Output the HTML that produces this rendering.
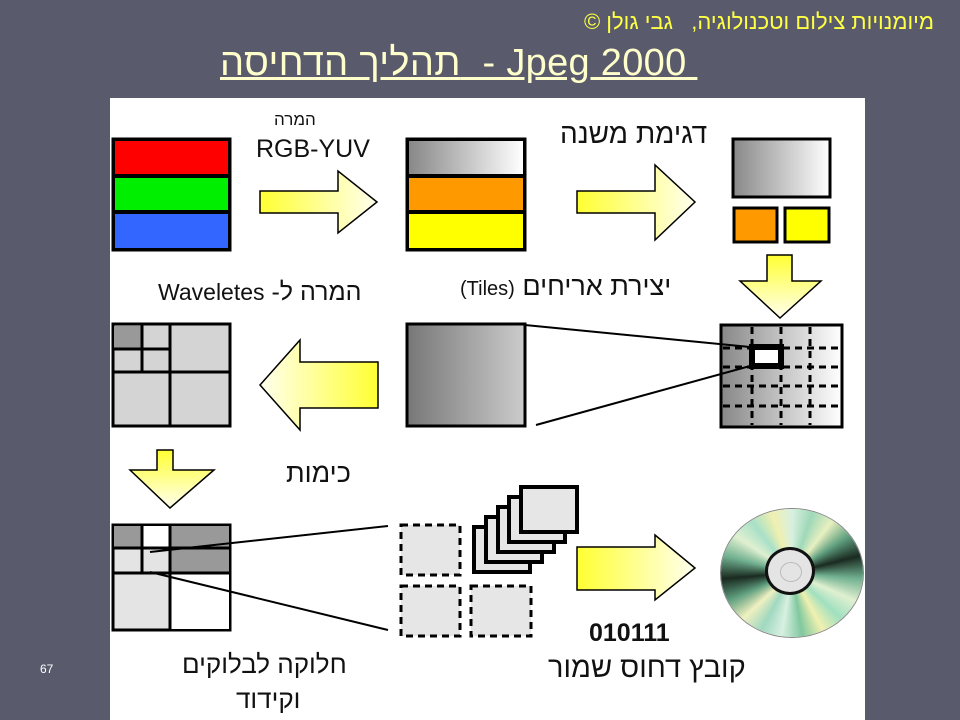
<!DOCTYPE html>
<html><head><meta charset="utf-8"><style>
body{margin:0;width:960px;height:720px;overflow:hidden;background:#595b6c;font-family:"Liberation Sans","DejaVu Sans",sans-serif;position:relative}
.t{position:absolute;white-space:nowrap}
#cd{position:absolute;left:721px;top:509px;width:142px;height:128px;border-radius:50%;
background:conic-gradient(from 0deg,#d8f0e0,#9fd8b8,#e8f0c0,#60a080,#1a2a20,#70b090,#e0f0d0,#a0e0c0,#f0f0b0,#80c8a0,#d8f0e0,#a0d8c0,#f0f0c0,#60a080,#1a2a20,#70b090,#e0f0d0,#a8e0c8,#f0f0b0,#d8f0e0);
box-shadow:0 0 0 1px #888}
#hub{position:absolute;left:44px;top:38px;width:50px;height:48px;border-radius:50%;background:#e4e4e4;border:3px solid #111;box-sizing:border-box}
#hub2{position:absolute;left:12px;top:12px;width:20px;height:18px;border-radius:50%;border:1px solid #bbb}
</style></head><body>
<div class="t" style="right:26px;top:9px;color:#ffff44;font-size:22px;direction:rtl;font-family:'Liberation Sans','Noto Sans CJK SC',sans-serif">מיומנויות צילום וטכנולוגיה,&nbsp;&nbsp; גבי גולן ©</div>
<div class="t" style="left:220px;top:42px;color:#ffffcc;font-size:38px;letter-spacing:0.3px;text-decoration:underline;direction:ltr;font-family:'Liberation Sans','Noto Sans CJK SC',sans-serif">תהליך הדחיסה&nbsp; - Jpeg 2000&nbsp;</div>
<div class="t" style="left:40px;top:662px;color:#fff;font-size:12px">67</div>
<svg style="position:absolute;left:0;top:0" width="960" height="720">
<defs>
<linearGradient id="ay" x1="0" x2="1"><stop offset="0" stop-color="#ffff33"/><stop offset="1" stop-color="#ffffee"/></linearGradient>
<linearGradient id="ayl" x1="1" x2="0"><stop offset="0" stop-color="#ffff33"/><stop offset="1" stop-color="#ffffee"/></linearGradient>
<linearGradient id="ayd" x1="0" y1="0" x2="0" y2="1"><stop offset="0" stop-color="#ffff33"/><stop offset="1" stop-color="#ffffee"/></linearGradient>
<linearGradient id="g1" x1="0" x2="1"><stop offset="0" stop-color="#888"/><stop offset="1" stop-color="#fff"/></linearGradient>
<linearGradient id="g2" x1="0" x2="1"><stop offset="0" stop-color="#777"/><stop offset="1" stop-color="#ccc"/></linearGradient>
</defs>
<rect x="110" y="98" width="755" height="622" fill="#fff"/>
<g stroke="#000" stroke-width="3">
<rect x="113" y="139" width="117" height="111" fill="#000"/>
<rect x="115" y="141" width="113" height="33" fill="#ff0000" stroke="none"/>
<rect x="115" y="178" width="113" height="32" fill="#00ee00" stroke="none"/>
<rect x="115" y="214" width="113" height="34" fill="#3366ff" stroke="none"/>
<rect x="407" y="139" width="118" height="111" fill="#000"/>
<rect x="409" y="141" width="114" height="33" fill="url(#g1)" stroke="none"/>
<rect x="409" y="178" width="114" height="32" fill="#ff9900" stroke="none"/>
<rect x="409" y="214" width="114" height="34" fill="#ffff00" stroke="none"/>
<rect x="733" y="139" width="97" height="58" fill="url(#g1)"/>
<rect x="734" y="208" width="43" height="34" fill="#ff9900"/>
<rect x="785" y="208" width="44" height="34" fill="#ffff00"/>
<path d="M260 191H338V171L377 202L338 233V213H260Z" fill="url(#ay)" stroke-width="1.5"/>
<path d="M577 191H655V165L695 202L655 240V213H577Z" fill="url(#ay)" stroke-width="1.5"/>
<path d="M767 255H792V281H821L780 318L740 281H767Z" fill="url(#ayd)" stroke-width="1.5"/>
<path d="M378 362V408H300V430L260 385L300 340V362Z" fill="url(#ayl)" stroke-width="1.5"/>
<path d="M157 450H173V470H214L170 508L130 470H157Z" fill="url(#ayd)" stroke-width="1.5"/>
<path d="M577 547H655V535L695 568L655 600V590H577Z" fill="url(#ay)" stroke-width="1.5"/>
<rect x="407" y="324" width="118" height="102" fill="url(#g2)"/>
<rect x="721" y="325" width="121" height="102" fill="url(#g1)"/>
<g stroke-dasharray="7,5" stroke-width="3">
<line x1="752" y1="327" x2="752" y2="425"/><line x1="781" y1="327" x2="781" y2="425"/><line x1="810" y1="327" x2="810" y2="425"/>
<line x1="723" y1="348" x2="840" y2="348"/><line x1="723" y1="367" x2="840" y2="367"/><line x1="723" y1="386" x2="840" y2="386"/><line x1="723" y1="406" x2="840" y2="406"/>
</g>
<rect x="752" y="347" width="29" height="19" fill="#fff" stroke-width="6"/>
<line x1="525" y1="325" x2="750" y2="347" stroke-width="2"/>
<line x1="536" y1="425" x2="750" y2="366" stroke-width="2"/>
<rect x="113" y="324" width="117" height="102" fill="#d4d4d4"/>
<rect x="114" y="326" width="28" height="22" fill="#999" stroke="none"/>
<line x1="142" y1="324" x2="142" y2="372"/><line x1="113" y1="349" x2="170" y2="349"/>
<line x1="170" y1="324" x2="170" y2="426"/><line x1="113" y1="372" x2="230" y2="372"/>
<rect x="113" y="525" width="117" height="105" fill="#e4e4e4"/>
<rect x="114" y="526" width="28" height="21" fill="#999" stroke="none"/>
<rect x="142" y="526" width="28" height="21" fill="#fff" stroke="none"/>
<rect x="170" y="526" width="59" height="47" fill="#999" stroke="none"/>
<rect x="170" y="573" width="59" height="56" fill="#fff" stroke="none"/>
<line x1="142" y1="525" x2="142" y2="573"/><line x1="113" y1="548" x2="230" y2="548"/>
<line x1="170" y1="525" x2="170" y2="630"/><line x1="113" y1="573" x2="230" y2="573"/>
<line x1="150" y1="552" x2="388" y2="526" stroke-width="2"/>
<line x1="150" y1="572" x2="388" y2="630" stroke-width="2"/>
<g stroke-dasharray="7,5" stroke-width="3" fill="#e6e6e6">
<rect x="401" y="525" width="59" height="50"/><rect x="401" y="586" width="59" height="50"/><rect x="471" y="586" width="60" height="50"/>
</g>
<g fill="#e6e6e6" stroke-width="4">
<rect x="474" y="527" width="56" height="45"/><rect x="486" y="517" width="56" height="45"/><rect x="498" y="507" width="56" height="45"/><rect x="509" y="497" width="56" height="45"/><rect x="521" y="487" width="56" height="45"/>
</g>
</g>
</svg>
<div id="cd"><div id="hub"><div id="hub2"></div></div></div>
<div class="t" style="left:274px;top:110px;font-size:17px;color:#111;direction:rtl;font-family:'Liberation Sans','Noto Sans CJK SC',sans-serif">המרה</div>
<div class="t" style="left:256px;top:135px;font-size:25px;color:#111">RGB-YUV</div>
<div class="t" style="left:560px;top:118px;font-size:28px;color:#111;direction:rtl;font-family:'Liberation Sans','Noto Sans CJK SC',sans-serif">דגימת משנה</div>
<div class="t" style="left:460px;top:271px;font-size:27px;color:#111;direction:rtl;font-family:'Liberation Sans','Noto Sans CJK SC',sans-serif">יצירת אריחים <span style="font-size:20px">(Tiles)</span></div>
<div class="t" style="left:158px;top:278px;font-size:25px;color:#111;direction:rtl;font-family:'Liberation Sans','Noto Sans CJK SC',sans-serif">המרה ל- <span style="font-size:23px">Waveletes</span></div>
<div class="t" style="left:286px;top:458px;font-size:27px;color:#111;direction:rtl;font-family:'Liberation Sans','Noto Sans CJK SC',sans-serif">כימות</div>
<div class="t" style="left:182px;top:649px;font-size:26px;color:#111;direction:rtl;font-family:'Liberation Sans','Noto Sans CJK SC',sans-serif">חלוקה לבלוקים</div>
<div class="t" style="left:236px;top:684px;font-size:26px;color:#111;direction:rtl;font-family:'Liberation Sans','Noto Sans CJK SC',sans-serif">וקידוד</div>
<div class="t" style="left:589px;top:619px;font-size:25px;color:#111;font-weight:bold">010111</div>
<div class="t" style="left:548px;top:652px;font-size:29px;color:#111;direction:rtl;font-family:'Liberation Sans','Noto Sans CJK SC',sans-serif">קובץ דחוס שמור</div>
</body></html>
